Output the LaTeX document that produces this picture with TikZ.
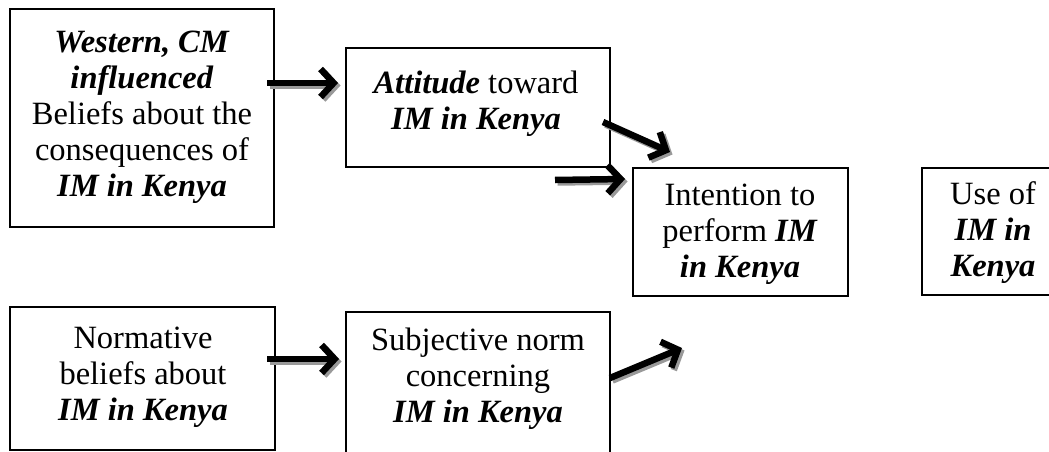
\documentclass[tikz,border=0pt]{standalone}
\usepackage{fontspec}
\setmainfont{Liberation Serif}
\usetikzlibrary{arrows.meta}
\begin{document}
\begin{tikzpicture}[x=1pt,y=-1pt,
  box/.style={draw, line width=1.6pt, rectangle, inner sep=0pt},
  lbl/.style={align=center, font=\fontsize{32.5}{36}\selectfont, inner sep=0pt},
  tipstyle/.style={-{Straight Barb[length=13pt,width=28pt]}},
  arr/.style={line width=6.5pt, tipstyle,
    preaction={draw=black!40, line width=6.5pt, tipstyle, transform canvas={shift={(2.5pt,-2.5pt)}}}},
]
\useasboundingbox (0,0) rectangle (1049,452);
\clip (0,0) rectangle (1049,452);

% boxes
\node[box, minimum width=264pt, minimum height=218pt] (b1) at (142,118) {};
\node[box, minimum width=264pt, minimum height=119pt] (b2) at (478,107.5) {};
\node[box, minimum width=215pt, minimum height=128pt] (b3) at (740.5,232) {};
\node[box, minimum width=142pt, minimum height=127pt] (b4) at (993,231.5) {};
\node[box, minimum width=265pt, minimum height=143pt] (b5) at (142.5,378.5) {};
\node[box, minimum width=264pt, minimum height=178pt] (b6) at (478,401) {};

% texts
\node[lbl] (t1) at (142,117) {\textbf{\textit{Western, CM}}\\\textbf{\textit{influenced}}\\Beliefs about the\\consequences of\\\textbf{\textit{IM in Kenya}}};
\node[lbl] (t2) at (476,104) {\textbf{\textit{Attitude}} toward\\\textbf{\textit{IM in Kenya}}};
\node[lbl] (t3) at (740,234) {Intention to\\perform \textbf{\textit{IM}}\\\textbf{\textit{in Kenya}}};
\node[lbl] (t4) at (993,233) {Use of\\\textbf{\textit{IM in}}\\\textbf{\textit{Kenya}}};
\node[lbl] (t5) at (143,377) {Normative\\beliefs about\\\textbf{\textit{IM in Kenya}}};
\node[lbl] (t6) at (478,379) {Subjective norm\\concerning\\\textbf{\textit{IM in Kenya}}};

% arrow end points
\coordinate (a1s) at (267,83);
\coordinate (a1e) at (338,83);
\coordinate (a2s) at (603,122);
\coordinate (a2e) at (670,152);
\coordinate (a3s) at (555,180);
\coordinate (a3e) at (625,179);
\coordinate (a4s) at (267,359);
\coordinate (a4e) at (339,359);
\coordinate (a5s) at (610,378);
\coordinate (a5e) at (682,348);

\draw[arr] (a1s) -- (a1e);
\draw[arr] (a2s) -- (a2e);
\draw[arr] (a3s) -- (a3e);
\draw[arr] (a4s) -- (a4e);
\draw[arr] (a5s) -- (a5e);
\end{tikzpicture}
\end{document}
